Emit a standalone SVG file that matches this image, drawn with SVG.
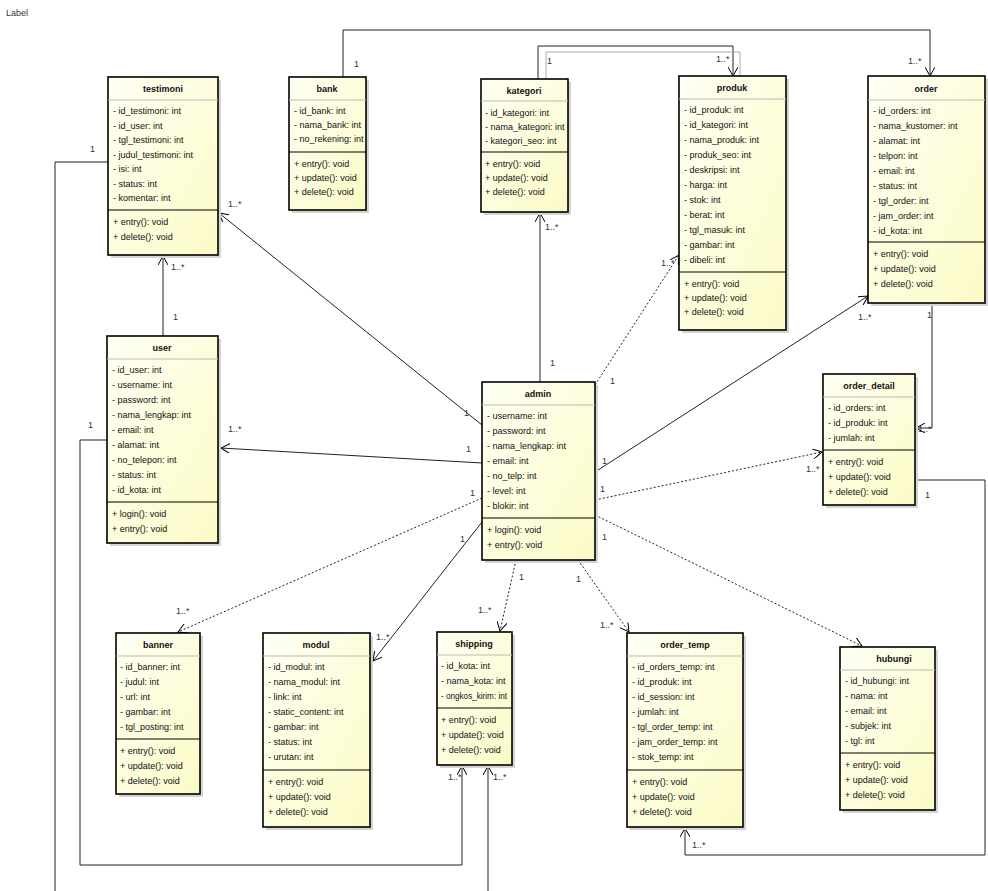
<svg xmlns="http://www.w3.org/2000/svg" width="988" height="891" viewBox="0 0 988 891">
<defs>
<linearGradient id="g" x1="0" y1="0" x2="1" y2="1">
<stop offset="0" stop-color="#fffff4"/>
<stop offset="1" stop-color="#fbfbc6"/>
</linearGradient>
<marker id="arr" markerWidth="10" markerHeight="10" refX="9" refY="5" orient="auto" markerUnits="userSpaceOnUse">
<path d="M0,0 L9,5 L0,10" fill="none" stroke="#000" stroke-width="1"/>
</marker>
<style>
.box{fill:url(#g);stroke:#000;stroke-width:1.6}
.sh{fill:#d4d4d4}
.dv{stroke:#000;stroke-width:1}
.dl{stroke:#bbb;stroke-width:1}
.t{font-family:"Liberation Sans",Arial,sans-serif;font-size:9px;fill:#111}
.tt{font-weight:bold;text-anchor:middle}
.c{fill:none;stroke:#222;stroke-width:1}
.d{stroke-dasharray:2 2}
.lb{font-family:"Liberation Sans",Arial,sans-serif;font-size:9px;fill:#333}
</style>
</defs>
<rect width="988" height="891" fill="#fff"/>
<text class="lb" x="6" y="16" fill="#999">Label</text>

<g id="connectors">
<path class="c" d="M343,77 V30 H930 V76" marker-end="url(#arr)"/>
<path class="c" d="M538,79 V46 H733 V76" marker-end="url(#arr)"/>
<path class="c" d="M546,79 V52 H740 V76" style="stroke:#aaa"/>
<path class="c" d="M163,336 V256" marker-end="url(#arr)"/>
<path class="c" d="M108,162 H55 V891"/>
<path class="c" d="M482,425 L219,213" marker-end="url(#arr)"/>
<path class="c" d="M482,463 L221,448" marker-end="url(#arr)"/>
<path class="c" d="M540,382 V213" marker-end="url(#arr)"/>
<path class="c d" d="M595,385 L679,255" marker-end="url(#arr)"/>
<path class="c" d="M595,472 L868,296" marker-end="url(#arr)"/>
<path class="c d" d="M595,500 L822,452" marker-end="url(#arr)"/>
<path class="c d" d="M482,498 L178,632" marker-end="url(#arr)"/>
<path class="c" d="M482,522 L373,661" marker-end="url(#arr)"/>
<path class="c d" d="M516,560 L500,631" marker-end="url(#arr)"/>
<path class="c d" d="M578,560 L629,632" marker-end="url(#arr)"/>
<path class="c d" d="M595,515 L862,646" marker-end="url(#arr)"/>
<path class="c" d="M932,303 V428 H916" marker-end="url(#arr)"/>
<path class="c" d="M915,480 H985 V855 H685 V828" marker-end="url(#arr)"/>
<path class="c" d="M107,440 H80 V865 H462 V766" marker-end="url(#arr)"/>
<path class="c" d="M488,891 V766" marker-end="url(#arr)"/>
</g>

<g id="labels">
<text class="lb" x="354" y="67">1</text>
<text class="lb" x="908" y="64">1..*</text>
<text class="lb" x="547" y="64">1</text>
<text class="lb" x="716" y="62">1..*</text>
<text class="lb" x="171" y="270">1..*</text>
<text class="lb" x="173" y="320">1</text>
<text class="lb" x="90" y="152">1</text>
<text class="lb" x="228" y="207">1..*</text>
<text class="lb" x="464" y="416">1</text>
<text class="lb" x="228" y="432">1..*</text>
<text class="lb" x="466" y="452">1</text>
<text class="lb" x="545" y="230">1..*</text>
<text class="lb" x="550" y="366">1</text>
<text class="lb" x="661" y="266">1..*</text>
<text class="lb" x="610" y="384">1</text>
<text class="lb" x="858" y="320">1..*</text>
<text class="lb" x="602" y="464">1</text>
<text class="lb" x="806" y="472">1..*</text>
<text class="lb" x="600" y="492">1</text>
<text class="lb" x="176" y="614">1..*</text>
<text class="lb" x="470" y="496">1</text>
<text class="lb" x="376" y="640">1..*</text>
<text class="lb" x="460" y="542">1</text>
<text class="lb" x="478" y="613">1..*</text>
<text class="lb" x="519" y="580">1</text>
<text class="lb" x="576" y="582">1</text>
<text class="lb" x="600" y="628">1..*</text>
<text class="lb" x="842" y="659">1..*</text>
<text class="lb" x="602" y="540">1</text>
<text class="lb" x="918" y="432">1..*</text>
<text class="lb" x="927" y="318">1</text>
<text class="lb" x="925" y="498">1</text>
<text class="lb" x="692" y="848">1..*</text>
<text class="lb" x="88" y="428">1</text>
<text class="lb" x="448" y="780">1..*</text>
<text class="lb" x="493" y="780">1..*</text>
</g>

<g id="testimoni">
<rect class="sh" x="111" y="80" width="110" height="178"/>
<rect class="box" x="108" y="77" width="110" height="178"/>
<line class="dl" x1="108" y1="100" x2="218" y2="100"/>
<line class="dv" x1="108" y1="210" x2="218" y2="210"/>
<text class="t tt" x="163" y="92">testimoni</text>
<text class="t"><tspan x="113" y="114">- id_testimoni: int</tspan><tspan x="113" y="128.5">- id_user: int</tspan><tspan x="113" y="143">- tgl_testimoni: int</tspan><tspan x="113" y="157.5">- judul_testimoni: int</tspan><tspan x="113" y="172">- isi: int</tspan><tspan x="113" y="186.5">- status: int</tspan><tspan x="113" y="201">- komentar: int</tspan></text>
<text class="t"><tspan x="113" y="225">+ entry(): void</tspan><tspan x="113" y="240">+ delete(): void</tspan></text>
</g>

<g id="bank">
<rect class="sh" x="292" y="80" width="77" height="133"/>
<rect class="box" x="289" y="77" width="77" height="133"/>
<line class="dl" x1="289" y1="100" x2="366" y2="100"/>
<line class="dv" x1="289" y1="152" x2="366" y2="152"/>
<text class="t tt" x="327" y="92">bank</text>
<text class="t"><tspan x="294" y="114">- id_bank: int</tspan><tspan x="294" y="128">- nama_bank: int</tspan><tspan x="294" y="142">- no_rekening: int</tspan></text>
<text class="t"><tspan x="294" y="167">+ entry(): void</tspan><tspan x="294" y="181">+ update(): void</tspan><tspan x="294" y="195">+ delete(): void</tspan></text>
</g>

<g id="kategori">
<rect class="sh" x="484" y="82" width="87" height="133"/>
<rect class="box" x="481" y="79" width="87" height="133"/>
<line class="dl" x1="481" y1="101" x2="568" y2="101"/>
<line class="dv" x1="481" y1="152" x2="568" y2="152"/>
<text class="t tt" x="524" y="94">kategori</text>
<text class="t"><tspan x="485" y="116">- id_kategori: int</tspan><tspan x="485" y="130">- nama_kategori: int</tspan><tspan x="485" y="144">- kategori_seo: int</tspan></text>
<text class="t"><tspan x="485" y="167">+ entry(): void</tspan><tspan x="485" y="181">+ update(): void</tspan><tspan x="485" y="195">+ delete(): void</tspan></text>
</g>

<g id="produk">
<rect class="sh" x="682" y="79" width="107" height="254"/>
<rect class="box" x="679" y="76" width="107" height="254"/>
<line class="dl" x1="679" y1="99" x2="786" y2="99"/>
<line class="dv" x1="679" y1="272" x2="786" y2="272"/>
<text class="t tt" x="732" y="91">produk</text>
<text class="t"><tspan x="684" y="113">- id_produk: int</tspan><tspan x="684" y="128">- id_kategori: int</tspan><tspan x="684" y="143">- nama_produk: int</tspan><tspan x="684" y="158">- produk_seo: int</tspan><tspan x="684" y="173">- deskripsi: int</tspan><tspan x="684" y="188">- harga: int</tspan><tspan x="684" y="203">- stok: int</tspan><tspan x="684" y="218">- berat: int</tspan><tspan x="684" y="233">- tgl_masuk: int</tspan><tspan x="684" y="248">- gambar: int</tspan><tspan x="684" y="263">- dibeli: int</tspan></text>
<text class="t"><tspan x="684" y="287">+ entry(): void</tspan><tspan x="684" y="301">+ update(): void</tspan><tspan x="684" y="315">+ delete(): void</tspan></text>
</g>

<g id="order">
<rect class="sh" x="871" y="79" width="117" height="227"/>
<rect class="box" x="868" y="76" width="117" height="227"/>
<line class="dl" x1="868" y1="100" x2="985" y2="100"/>
<line class="dv" x1="868" y1="242" x2="985" y2="242"/>
<text class="t tt" x="926" y="92">order</text>
<text class="t"><tspan x="873" y="114">- id_orders: int</tspan><tspan x="873" y="129">- nama_kustomer: int</tspan><tspan x="873" y="144">- alamat: int</tspan><tspan x="873" y="159">- telpon: int</tspan><tspan x="873" y="174">- email: int</tspan><tspan x="873" y="189">- status: int</tspan><tspan x="873" y="204">- tgl_order: int</tspan><tspan x="873" y="219">- jam_order: int</tspan><tspan x="873" y="234">- id_kota: int</tspan></text>
<text class="t"><tspan x="873" y="257">+ entry(): void</tspan><tspan x="873" y="272">+ update(): void</tspan><tspan x="873" y="287">+ delete(): void</tspan></text>
</g>

<g id="user">
<rect class="sh" x="110" y="339" width="111" height="207"/>
<rect class="box" x="107" y="336" width="111" height="207"/>
<line class="dl" x1="107" y1="359" x2="218" y2="359"/>
<line class="dv" x1="107" y1="502" x2="218" y2="502"/>
<text class="t tt" x="162" y="351">user</text>
<text class="t"><tspan x="112" y="373">- id_user: int</tspan><tspan x="112" y="388">- username: int</tspan><tspan x="112" y="403">- password: int</tspan><tspan x="112" y="418">- nama_lengkap: int</tspan><tspan x="112" y="433">- email: int</tspan><tspan x="112" y="448">- alamat: int</tspan><tspan x="112" y="463">- no_telepon: int</tspan><tspan x="112" y="478">- status: int</tspan><tspan x="112" y="493">- id_kota: int</tspan></text>
<text class="t"><tspan x="112" y="517">+ login(): void</tspan><tspan x="112" y="532">+ entry(): void</tspan></text>
</g>

<g id="admin">
<rect class="sh" x="485" y="385" width="113" height="178"/>
<rect class="box" x="482" y="382" width="113" height="178"/>
<line class="dl" x1="482" y1="405" x2="595" y2="405"/>
<line class="dv" x1="482" y1="518" x2="595" y2="518"/>
<text class="t tt" x="538" y="397">admin</text>
<text class="t"><tspan x="487" y="419">- username: int</tspan><tspan x="487" y="434">- password: int</tspan><tspan x="487" y="449">- nama_lengkap: int</tspan><tspan x="487" y="464">- email: int</tspan><tspan x="487" y="479">- no_telp: int</tspan><tspan x="487" y="494">- level: int</tspan><tspan x="487" y="509">- blokir: int</tspan></text>
<text class="t"><tspan x="487" y="533">+ login(): void</tspan><tspan x="487" y="548">+ entry(): void</tspan></text>
</g>

<g id="order_detail">
<rect class="sh" x="826" y="377" width="92" height="131"/>
<rect class="box" x="823" y="374" width="92" height="131"/>
<line class="dl" x1="823" y1="397" x2="915" y2="397"/>
<line class="dv" x1="823" y1="450" x2="915" y2="450"/>
<text class="t tt" x="869" y="389">order_detail</text>
<text class="t"><tspan x="828" y="411">- id_orders: int</tspan><tspan x="828" y="426">- id_produk: int</tspan><tspan x="828" y="441">- jumlah: int</tspan></text>
<text class="t"><tspan x="828" y="465">+ entry(): void</tspan><tspan x="828" y="480">+ update(): void</tspan><tspan x="828" y="495">+ delete(): void</tspan></text>
</g>

<g id="banner">
<rect class="sh" x="119" y="636" width="84" height="161"/>
<rect class="box" x="116" y="633" width="84" height="161"/>
<line class="dl" x1="116" y1="656" x2="200" y2="656"/>
<line class="dv" x1="116" y1="739" x2="200" y2="739"/>
<text class="t tt" x="158" y="648">banner</text>
<text class="t"><tspan x="120" y="670">- id_banner: int</tspan><tspan x="120" y="685">- judul: int</tspan><tspan x="120" y="700">- url: int</tspan><tspan x="120" y="715">- gambar: int</tspan><tspan x="120" y="730">- tgl_posting: int</tspan></text>
<text class="t"><tspan x="120" y="754">+ entry(): void</tspan><tspan x="120" y="769">+ update(): void</tspan><tspan x="120" y="784">+ delete(): void</tspan></text>
</g>

<g id="modul">
<rect class="sh" x="266" y="636" width="107" height="194"/>
<rect class="box" x="263" y="633" width="107" height="194"/>
<line class="dl" x1="263" y1="656" x2="370" y2="656"/>
<line class="dv" x1="263" y1="770" x2="370" y2="770"/>
<text class="t tt" x="316" y="648">modul</text>
<text class="t"><tspan x="268" y="670">- id_modul: int</tspan><tspan x="268" y="685">- nama_modul: int</tspan><tspan x="268" y="700">- link: int</tspan><tspan x="268" y="715">- static_content: int</tspan><tspan x="268" y="730">- gambar: int</tspan><tspan x="268" y="745">- status: int</tspan><tspan x="268" y="760">- urutan: int</tspan></text>
<text class="t"><tspan x="268" y="785">+ entry(): void</tspan><tspan x="268" y="800">+ update(): void</tspan><tspan x="268" y="815">+ delete(): void</tspan></text>
</g>

<g id="shipping">
<rect class="sh" x="440" y="635" width="75" height="133"/>
<rect class="box" x="437" y="632" width="75" height="133"/>
<line class="dl" x1="437" y1="655" x2="512" y2="655"/>
<line class="dv" x1="437" y1="708" x2="512" y2="708"/>
<text class="t tt" x="474" y="647">shipping</text>
<text class="t"><tspan x="441" y="669">- id_kota: int</tspan><tspan x="441" y="684">- nama_kota: int</tspan><tspan x="441" y="699" textLength="66" lengthAdjust="spacingAndGlyphs">- ongkos_kirim: int</tspan></text>
<text class="t"><tspan x="441" y="723">+ entry(): void</tspan><tspan x="441" y="738">+ update(): void</tspan><tspan x="441" y="753">+ delete(): void</tspan></text>
</g>

<g id="order_temp">
<rect class="sh" x="630" y="636" width="116" height="194"/>
<rect class="box" x="627" y="633" width="116" height="194"/>
<line class="dl" x1="627" y1="656" x2="743" y2="656"/>
<line class="dv" x1="627" y1="770" x2="743" y2="770"/>
<text class="t tt" x="685" y="648">order_temp</text>
<text class="t"><tspan x="632" y="670">- id_orders_temp: int</tspan><tspan x="632" y="685">- id_produk: int</tspan><tspan x="632" y="700">- id_session: int</tspan><tspan x="632" y="715">- jumlah: int</tspan><tspan x="632" y="730">- tgl_order_temp: int</tspan><tspan x="632" y="745">- jam_order_temp: int</tspan><tspan x="632" y="760">- stok_temp: int</tspan></text>
<text class="t"><tspan x="632" y="785">+ entry(): void</tspan><tspan x="632" y="800">+ update(): void</tspan><tspan x="632" y="815">+ delete(): void</tspan></text>
</g>

<g id="hubungi">
<rect class="sh" x="843" y="650" width="95" height="163"/>
<rect class="box" x="840" y="647" width="95" height="163"/>
<line class="dl" x1="840" y1="670" x2="935" y2="670"/>
<line class="dv" x1="840" y1="753" x2="935" y2="753"/>
<text class="t tt" x="894" y="662">hubungi</text>
<text class="t"><tspan x="845" y="684">- id_hubungi: int</tspan><tspan x="845" y="699">- nama: int</tspan><tspan x="845" y="714">- email: int</tspan><tspan x="845" y="729">- subjek: int</tspan><tspan x="845" y="744">- tgl: int</tspan></text>
<text class="t"><tspan x="845" y="768">+ entry(): void</tspan><tspan x="845" y="783">+ update(): void</tspan><tspan x="845" y="798">+ delete(): void</tspan></text>
</g>
</svg>
